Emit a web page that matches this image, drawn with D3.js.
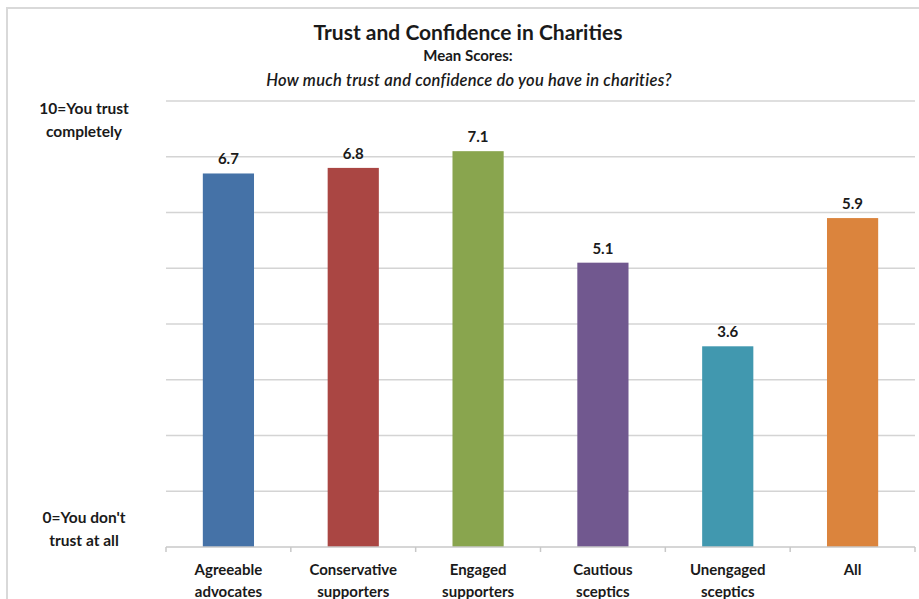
<!DOCTYPE html>
<html>
<head>
<meta charset="utf-8">
<script src="https://cdn.jsdelivr.net/npm/d3@7/dist/d3.min.js"></script>
<style>
  html, body { margin: 0; padding: 0; background: #fff; }
  svg { display: block; }
  text { font-family: Lato, "Open Sans", "Liberation Sans", sans-serif; fill: #1a1a1a; }
</style>
</head>
<body>
<svg id="chart" width="919" height="599"></svg>
<script>
// Segment mean scores
const categories = [
  ["Agreeable", "advocates"],
  ["Conservative", "supporters"],
  ["Engaged", "supporters"],
  ["Cautious", "sceptics"],
  ["Unengaged", "sceptics"],
  ["All"]
];
const meanScores = [6.7, 6.8, 7.1, 5.1, 3.6, 5.9];
const barColors = ["#4572A7", "#AA4643", "#89A54E", "#71588F", "#4198AF", "#DB843D"];
const yTicks = [0, 1, 2, 3, 4, 5, 6, 7, 8];
const scaleEndLabels = { top: ["10=You trust", "completely"], bottom: ["0=You don't", "trust at all"] };
const titleLines = ["Trust and Confidence in Charities", "Mean Scores:", "How much trust and confidence do you have in charities?"];

const svg = d3.select("#chart");
const W = 919, H = 599;
const plot = { left: 166, right: 915, top: 101, bottom: 547 };

// Chart frame
svg.append("path")
  .attr("d", `M7,${H} L7,8 L${W},8`)
  .attr("fill", "none")
  .attr("stroke", "#d9d9d9")
  .attr("stroke-width", 2);

const keys = categories.map((c, i) => i);
const x = d3.scaleBand().domain(keys).range([plot.left, plot.right]).paddingInner(0.59).paddingOuter(0.295);
const xCat = d3.scaleBand().domain(keys).range([plot.left, plot.right]).padding(0);
const y = d3.scaleLinear().domain([0, 8]).range([plot.bottom, plot.top]);

// Horizontal gridlines
svg.append("g").selectAll("line")
  .data(yTicks.filter(t => t > 0))
  .join("line")
  .attr("x1", plot.left).attr("x2", plot.right)
  .attr("y1", d => y(d)).attr("y2", d => y(d))
  .attr("stroke", "#d4d4d4").attr("stroke-width", 1.5);

// Bars
svg.append("g").selectAll("rect")
  .data(meanScores)
  .join("rect")
  .attr("x", (d, i) => x(i))
  .attr("width", x.bandwidth())
  .attr("y", d => y(d))
  .attr("height", d => y(0) - y(d))
  .attr("fill", (d, i) => barColors[i]);

// Category axis
const xAxis = svg.append("g").attr("transform", `translate(0,${plot.bottom})`);
xAxis.append("line")
  .attr("x1", plot.left).attr("x2", plot.right)
  .attr("stroke", "#c8c8c8").attr("stroke-width", 1.5);
const boundaries = keys.map(k => xCat(k)).concat([plot.right]);
xAxis.selectAll("line.tick")
  .data(boundaries)
  .join("line")
  .attr("class", "tick")
  .attr("x1", d => d).attr("x2", d => d)
  .attr("y1", 0).attr("y2", 5)
  .attr("stroke", "#c8c8c8").attr("stroke-width", 1.5);

xAxis.selectAll("text.cat")
  .data(categories)
  .join("text")
  .attr("class", "cat")
  .attr("x", (d, i) => xCat(i) + xCat.bandwidth() / 2)
  .attr("y", 28)
  .attr("text-anchor", "middle")
  .attr("font-size", 15)
  .attr("font-weight", "bold")
  .each(function (d) {
    d3.select(this).selectAll("tspan")
      .data(d)
      .join("tspan")
      .attr("x", d3.select(this).attr("x"))
      .attr("dy", (t, j) => j === 0 ? 0 : 21.5)
      .text(t => t);
  });

// Value labels
svg.append("g").selectAll("text")
  .data(meanScores)
  .join("text")
  .attr("x", (d, i) => x(i) + x.bandwidth() / 2)
  .attr("y", d => y(d) - 9)
  .attr("text-anchor", "middle")
  .attr("font-size", 15)
  .attr("font-weight", "bold")
  .text(d => d3.format(".1f")(d));

// Scale end labels on the left
function multiline(lines, cx, cy) {
  const t = svg.append("text")
    .attr("x", cx).attr("y", cy)
    .attr("text-anchor", "middle")
    .attr("font-size", 15.5)
    .attr("font-weight", "bold");
  lines.forEach((s, j) => t.append("tspan").attr("x", cx).attr("dy", j === 0 ? 0 : 22.5).text(s));
}
multiline(scaleEndLabels.top, 84, 114);
multiline(scaleEndLabels.bottom, 84, 523);

// Titles
svg.append("text").attr("x", 468).attr("y", 40)
  .attr("text-anchor", "middle").attr("font-size", 21).attr("font-weight", "bold")
  .text(titleLines[0]);
svg.append("text").attr("x", 468).attr("y", 61)
  .attr("text-anchor", "middle").attr("font-size", 15).attr("font-weight", "bold")
  .text(titleLines[1]);
svg.append("text").attr("x", 469).attr("y", 86)
  .attr("text-anchor", "middle").attr("font-size", 16.5).attr("font-style", "italic").attr("font-weight", "600")
  .attr("letter-spacing", 0.25)
  .text(titleLines[2]);
</script>
</body>
</html>
